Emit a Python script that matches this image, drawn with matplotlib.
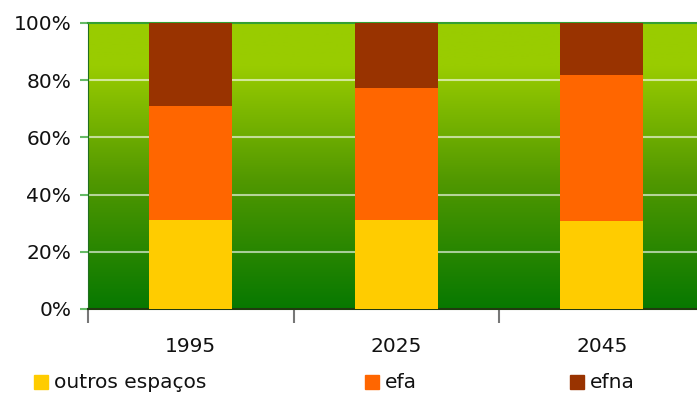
import numpy as np
import matplotlib.pyplot as plt
from matplotlib.colors import LinearSegmentedColormap
from matplotlib.patches import Rectangle

# data (percent of total)
years = ["1995", "2025", "2045"]
outros = [31.1, 31.1, 30.9]
efa = [40.0, 46.3, 50.9]
efna = [28.9, 22.6, 18.2]
labels = ["outros espaços", "efa", "efna"]
colors = ["#FFCC00", "#FF6600", "#993300"]

W, H = 697, 394
fig = plt.figure(figsize=(W / 100, H / 100), dpi=100)
plt.rcParams['font.family'] = ['DejaVu Sans']

# plot area (axis runs past the right edge, as in the original)
ax = fig.add_axes([88 / W, (H - 309) / H, 616.5 / W, 286 / H])

# green gradient background
cmap = LinearSegmentedColormap.from_list(
    "bg", [(0, "#077800"), (0.45, "#519800"), (0.85, "#99CC00"), (1, "#99CC00")])
grad = np.linspace(0, 1, 256).reshape(-1, 1)
ax.imshow(grad, aspect="auto", cmap=cmap, origin="lower",
          extent=[-0.5, 2.5, 0, 100], zorder=0)

x = np.arange(len(years))
bottom = np.zeros(len(years))
for vals, c, lab in zip([outros, efa, efna], colors, labels):
    ax.bar(x, vals, width=0.404, bottom=bottom, color=c, label=lab, zorder=3)
    bottom += np.array(vals)

ax.set_xlim(-0.5, 2.5)
ax.set_ylim(0, 100)

# grid lines
for yv in [20, 40, 60, 80]:
    ax.axhline(yv, color="white", alpha=0.6, lw=1.5, zorder=1)

ax.set_yticks([0, 20, 40, 60, 80, 100])
ax.set_yticklabels(["0%", "20%", "40%", "60%", "80%", "100%"], fontsize=14.5, color="#111111")
ax.tick_params(axis="y", length=6, width=1.5, color="#66bb66", pad=6)

# x ticks at category boundaries, labels at centres
ax.set_xticks([-0.5, 0.5, 1.5], minor=False)
ax.set_xticklabels([])
ax.set_xticks(x, minor=True)
ax.set_xticklabels(years, minor=True, fontsize=14.5, color="#111111")
ax.tick_params(axis="x", which="major", length=10, width=1.5, color="#777777", direction="out")
ax.tick_params(axis="x", which="minor", length=0, pad=20)

ax.spines["left"].set_color("#1f6f1f")
ax.spines["bottom"].set_color("#203a10")
ax.spines["bottom"].set_linewidth(1.5)
ax.spines["top"].set_color("#33a033")
ax.spines["top"].set_linewidth(1.5)
ax.spines["right"].set_visible(False)

# legend
leg_x = [34, 365, 570]
for lx, lab, c in zip(leg_x, labels, colors):
    fig.patches.append(Rectangle((lx / W, (H - 389) / H), 14 / W, 14 / H,
                                 transform=fig.transFigure, color=c))
    fig.text((lx + 20) / W, (H - 382) / H, lab, fontsize=14.5,
             va="center", ha="left", color="#111111")

fig.savefig("out.png", dpi=100)
